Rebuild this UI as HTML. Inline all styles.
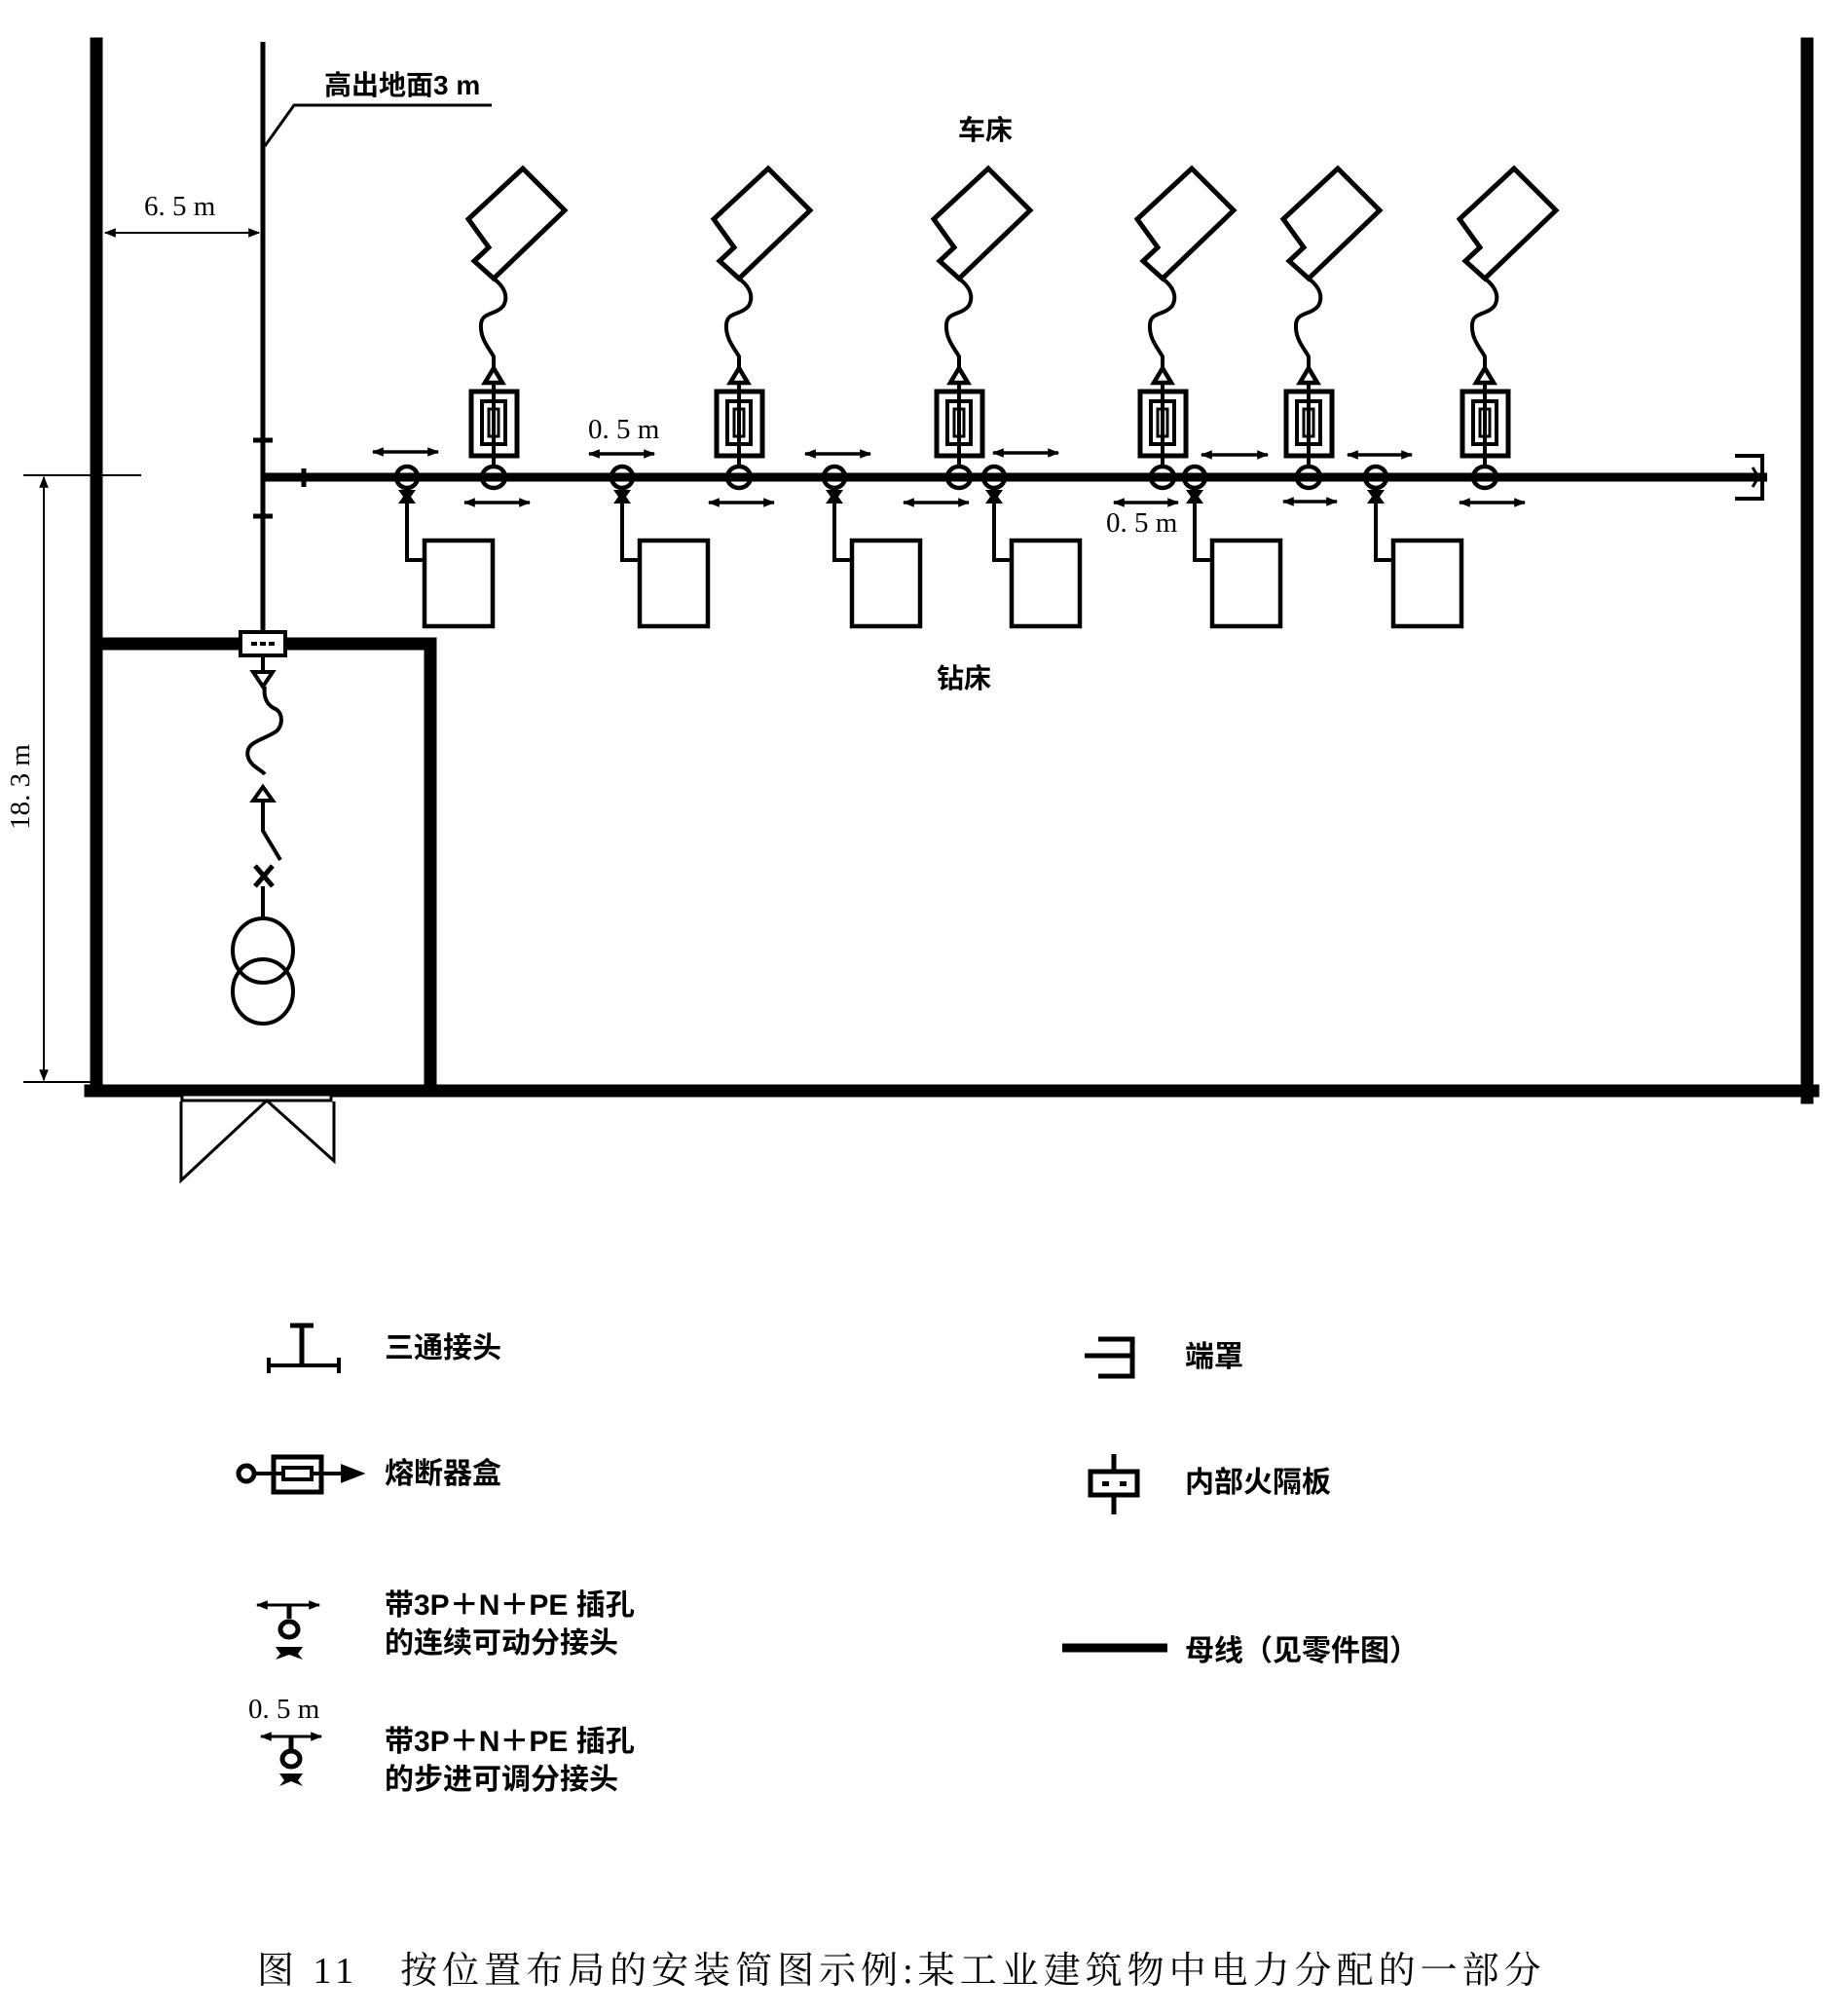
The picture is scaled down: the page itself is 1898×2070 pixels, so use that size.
<!DOCTYPE html>
<html><head><meta charset="utf-8"><style>
html,body{margin:0;padding:0;background:#fff}
svg{display:block}
.t{font-family:"Liberation Sans","Noto Sans CJK SC",sans-serif;font-weight:bold;fill:#000}
.s{font-family:"Liberation Serif","Noto Serif CJK SC",serif;fill:#000}
</style></head><body>
<svg width="1898" height="2070" viewBox="0 0 1898 2070" xmlns="http://www.w3.org/2000/svg">
<defs>
<marker id="ah" viewBox="0 0 10 10" refX="9" refY="5" markerWidth="20" markerHeight="12" markerUnits="userSpaceOnUse" orient="auto-start-reverse"><path d="M0,1 L10,5 L0,9 Z" fill="#000"/></marker>
<g id="lathe" fill="none" stroke="#000">
<path d="M30,173 L73,216 L0,286 L-20,268 L-5,254 L-26,225 Z" stroke-width="5" stroke-linejoin="miter"/>
<path d="M0,286 C12,295 15,305 10,314 C2,324 -12,320 -13,333 C-14,347 -6,356 0,366 L0,378" stroke-width="4"/>
<path d="M0,378 L-9,393 L9,393 Z" stroke-width="4.5"/>
<line x1="0" y1="393" x2="0" y2="478" stroke-width="4"/>
<rect x="-23" y="402" width="47" height="66" stroke-width="5"/>
<rect x="-12" y="412" width="24" height="44" stroke-width="4"/>
<rect x="-5" y="420" width="10" height="28" stroke-width="3"/>
<ellipse cx="0" cy="490" rx="12" ry="11" stroke-width="4.5"/>
</g>
<g id="drill" fill="none" stroke="#000">
<ellipse cx="0" cy="490" rx="11" ry="11" stroke-width="4.5"/>
<path d="M-9,503 L9,503 L4,510 L9,517 L-9,517 L-4,510 Z" fill="#000" stroke="none"/>
<path d="M0,501 L0,575 L18,575" stroke-width="4"/>
<rect x="18" y="555" width="70" height="88" stroke-width="4.5"/>
</g>
</defs>

<g stroke="#000" fill="none" stroke-linecap="square">
<line x1="99" y1="45" x2="99" y2="1120" stroke-width="13"/>
<line x1="1856" y1="45" x2="1856" y2="1127" stroke-width="13"/>
<line x1="93" y1="1120" x2="1862" y2="1120" stroke-width="13"/>
<line x1="99" y1="661" x2="442" y2="661" stroke-width="13"/>
<line x1="442" y1="661" x2="442" y2="1118" stroke-width="13"/>
</g>
<g stroke="#000" fill="none" stroke-width="3">
<rect x="187" y="1124" width="153" height="6" fill="#fff"/>
<path d="M186,1131 L186,1212 L274,1130 L343,1192 L343,1131"/>
</g>

<line x1="270" y1="43" x2="270" y2="650" stroke="#000" stroke-width="5"/>
<line x1="270" y1="490" x2="1815" y2="490" stroke="#000" stroke-width="9"/>
<g stroke="#000" stroke-width="5">
<line x1="260" y1="452" x2="280" y2="452"/>
<line x1="260" y1="530" x2="280" y2="530"/>
<line x1="312" y1="481" x2="312" y2="500"/>
</g>
<path d="M1782,468 L1810,468 L1810,512 L1782,512" fill="none" stroke="#000" stroke-width="4"/>
<path d="M1800,480 L1806,490 L1800,500" fill="none" stroke="#000" stroke-width="3"/>

<rect x="247" y="649" width="46" height="24" fill="#fff" stroke="#000" stroke-width="4"/>
<g fill="#000"><rect x="258" y="659" width="6" height="4"/><rect x="267" y="659" width="6" height="4"/><rect x="276" y="659" width="6" height="4"/></g>

<g stroke="#000" fill="none" stroke-width="4">
<line x1="270" y1="673" x2="270" y2="690"/>
<path d="M260,690 L280,690 L270,705 Z"/>
<path d="M272,705 C270,718 276,725 283,728 C292,733 290,748 282,752 C270,760 250,762 255,778 C258,787 268,790 272,795"/>
<path d="M270,808 L260,822 L280,822 Z"/>
<path d="M270,822 L270,853 L288,883"/>
<path d="M262,889 L280,910 M280,889 L262,910" stroke-width="5"/>
<line x1="270" y1="910" x2="270" y2="942"/>
<ellipse cx="270" cy="976" rx="31" ry="33"/>
<ellipse cx="270" cy="1018" rx="31" ry="33"/>
</g>

<g stroke="#000" stroke-width="2" fill="none">
<line x1="108" y1="239" x2="266" y2="239" marker-start="url(#ah)" marker-end="url(#ah)"/>
<line x1="24" y1="488" x2="145" y2="488"/>
<line x1="24" y1="1111" x2="99" y2="1111"/>
<line x1="45" y1="490" x2="45" y2="1109" marker-start="url(#ah)" marker-end="url(#ah)"/>
<path d="M505,108 L302,108 L272,150" stroke-width="3"/>
</g>
<text class="t" x="333" y="97" font-size="28" font-weight="normal">高出地面3 m</text>
<text class="s" x="148" y="221" font-size="29">6. 5 m</text>
<text class="s" x="0" y="0" font-size="29" transform="translate(30,808) rotate(-90)" text-anchor="middle">18. 3 m</text>

<use href="#lathe" x="507"/>
<use href="#lathe" x="759"/>
<use href="#lathe" x="985"/>
<use href="#lathe" x="1194"/>
<use href="#lathe" x="1344"/>
<use href="#lathe" x="1525"/>
<use href="#drill" x="418"/>
<use href="#drill" x="639"/>
<use href="#drill" x="857"/>
<use href="#drill" x="1021"/>
<use href="#drill" x="1227"/>
<use href="#drill" x="1413"/>

<g stroke="#000" stroke-width="3.5" marker-start="url(#ah)" marker-end="url(#ah)">
<line x1="383" y1="464" x2="450" y2="464"/>
<line x1="605" y1="466" x2="672" y2="466"/>
<line x1="827" y1="466" x2="894" y2="466"/>
<line x1="1020" y1="465" x2="1087" y2="465"/>
<line x1="1234" y1="467" x2="1302" y2="467"/>
<line x1="1384" y1="467" x2="1450" y2="467"/>
<line x1="477" y1="516" x2="544" y2="516"/>
<line x1="728" y1="516" x2="795" y2="516"/>
<line x1="928" y1="516" x2="995" y2="516"/>
<line x1="1144" y1="516" x2="1210" y2="516"/>
<line x1="1318" y1="515" x2="1373" y2="515"/>
<line x1="1499" y1="516" x2="1566" y2="516"/>
</g>
<text class="s" x="604" y="450" font-size="29">0. 5 m</text>
<text class="s" x="1136" y="546" font-size="29">0. 5 m</text>
<text class="t" x="984" y="143" font-size="28">车床</text>
<text class="t" x="962" y="706" font-size="28">钻床</text>

<g stroke="#000" fill="none">
<line x1="310" y1="1360" x2="310" y2="1402" stroke-width="5"/>
<line x1="298" y1="1361" x2="322" y2="1361" stroke-width="5"/>
<line x1="276" y1="1402" x2="348" y2="1402" stroke-width="4"/>
<line x1="276" y1="1394" x2="276" y2="1410" stroke-width="4"/>
<line x1="348" y1="1394" x2="348" y2="1410" stroke-width="4"/>
<circle cx="253" cy="1513" r="8" stroke-width="5"/>
<line x1="261" y1="1513" x2="281" y2="1513" stroke-width="4"/>
<rect x="281" y="1496" width="49" height="36" stroke-width="5"/>
<rect x="291" y="1507" width="29" height="12" stroke-width="4"/>
<line x1="283" y1="1513" x2="291" y2="1513" stroke-width="4"/>
<line x1="320" y1="1513" x2="330" y2="1513" stroke-width="4"/>
<path d="M330,1513 L353,1513" stroke-width="4"/>
<path d="M352,1506 L370,1513 L352,1520 Z" stroke-width="4" fill="#000"/>
<line x1="1114" y1="1392" x2="1162" y2="1392" stroke-width="5"/>
<path d="M1128,1375 L1163,1375 L1163,1413 L1128,1413" stroke-width="5"/>
<line x1="1144" y1="1493" x2="1144" y2="1555" stroke-width="5"/>
<rect x="1120" y="1511" width="48" height="24" fill="#fff" stroke-width="5"/>
<line x1="1091" y1="1692" x2="1199" y2="1692" stroke-width="9"/>
</g>
<g fill="#000"><rect x="1132" y="1521" width="7" height="5"/><rect x="1150" y="1521" width="7" height="5"/></g>
<g stroke="#000" stroke-width="3" marker-start="url(#ah)" marker-end="url(#ah)">
<line x1="264" y1="1648" x2="328" y2="1648"/>
<line x1="268" y1="1783" x2="330" y2="1783"/>
</g>
<g stroke="#000" fill="none" stroke-width="5">
<line x1="297" y1="1648" x2="297" y2="1662"/>
<ellipse cx="297" cy="1673" rx="9" ry="8"/>
<ellipse cx="299" cy="1806" rx="9" ry="8"/>
<line x1="299" y1="1783" x2="299" y2="1797"/>
</g>
<path d="M283,1691 L311,1691 L306,1698 L311,1704 L297,1699 L283,1704 L288,1698 Z" fill="#000"/>
<path d="M287,1821 L311,1821 L306,1828 L311,1834 L299,1829 L287,1834 L292,1828 Z" fill="#000"/>
<text class="s" x="255" y="1764" font-size="29">0. 5 m</text>

<text class="t" x="395" y="1394" font-size="30">三通接头</text>
<text class="t" x="395" y="1523" font-size="30">熔断器盒</text>
<text class="t" x="395" y="1658" font-size="30">带3P＋N＋PE 插孔</text>
<text class="t" x="395" y="1697" font-size="30">的连续可动分接头</text>
<text class="t" x="395" y="1798" font-size="30">带3P＋N＋PE 插孔</text>
<text class="t" x="395" y="1837" font-size="30">的步进可调分接头</text>
<text class="t" x="1217" y="1403" font-size="30">端罩</text>
<text class="t" x="1217" y="1532" font-size="30">内部火隔板</text>
<text class="t" x="1217" y="1705" font-size="30">母线（见零件图）</text>

<text class="s" x="264" y="2036" font-size="38" letter-spacing="5">图 11　按位置布局的安装简图示例:某工业建筑物中电力分配的一部分</text>
</svg>
</body></html>
